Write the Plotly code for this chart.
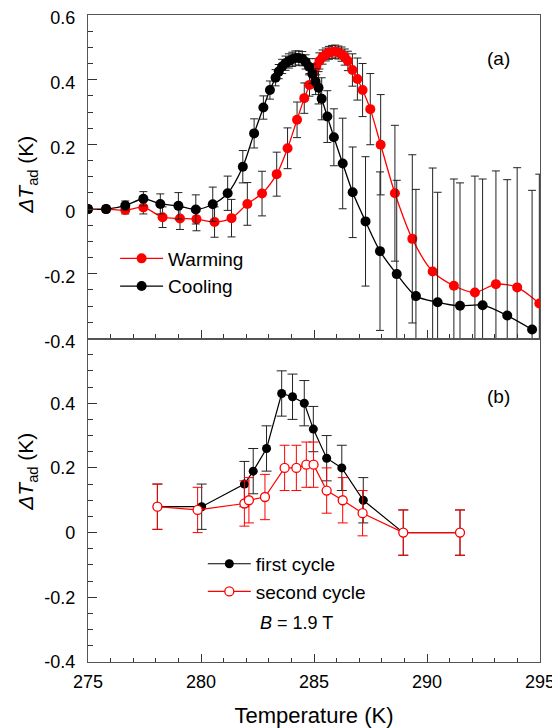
import plotly.graph_objects as go
from plotly.subplots import make_subplots

# ---------------- data: panel (a) ----------------
T_warm = [275.0, 275.8, 276.65, 277.45, 278.3, 279.07, 279.8, 280.6, 281.35, 282.05, 282.7,
          283.35, 283.83, 284.25, 284.57, 284.8, 284.96, 285.1, 285.24, 285.38, 285.52, 285.66,
          285.8, 285.94, 286.08, 286.22, 286.36, 286.5, 286.7, 286.92, 287.15, 287.49, 287.95,
          288.58, 289.35, 290.25, 291.19, 292.12, 293.05, 293.99, 294.97]
dT_warm = [0.0, 0.0, -0.003, 0.005, -0.025, -0.029, -0.031, -0.04, -0.028, 0.016, 0.048,
           0.108, 0.188, 0.276, 0.343, 0.384, 0.418, 0.44, 0.458, 0.47, 0.478, 0.483,
           0.486, 0.487, 0.484, 0.479, 0.47, 0.458, 0.43, 0.402, 0.368, 0.309, 0.199,
           0.049, -0.092, -0.193, -0.237, -0.258, -0.232, -0.242, -0.292]
err_warm = [0.01, 0.01, 0.012, 0.02, 0.032, 0.034, 0.036, 0.047, 0.058, 0.066, 0.069,
            0.068, 0.063, 0.055, 0.047, 0.035, 0.03, 0.025, 0.025, 0.022, 0.02, 0.02,
            0.02, 0.02, 0.02, 0.022, 0.025, 0.03, 0.05, 0.065, 0.082, 0.11, 0.155,
            0.21, 0.26, 0.32, 0.33, 0.36, 0.35, 0.37, 0.4]

T_cool = [275.0, 275.8, 276.65, 277.45, 278.2, 279.0, 279.77, 280.52, 281.18, 281.85, 282.35,
          282.76, 283.05, 283.3, 283.44, 283.59, 283.74, 283.89, 284.04, 284.18, 284.33, 284.48,
          284.63, 284.78, 284.93, 285.07, 285.2, 285.34, 285.59, 285.88, 286.27, 286.71, 287.28,
          287.92, 288.66, 289.51, 290.47, 291.46, 292.46, 293.55, 294.65]
dT_cool = [0.0, 0.0, 0.011, 0.032, 0.016, 0.01, -0.001, 0.015, 0.049, 0.131, 0.234,
           0.314, 0.368, 0.406, 0.425, 0.441, 0.451, 0.458, 0.463, 0.467, 0.467, 0.465,
           0.455, 0.44, 0.418, 0.394, 0.375, 0.341, 0.286, 0.222, 0.141, 0.052, -0.038,
           -0.13, -0.201, -0.269, -0.288, -0.299, -0.297, -0.329, -0.372]
err_cool = [0.01, 0.01, 0.014, 0.022, 0.031, 0.041, 0.045, 0.053, 0.053, 0.05, 0.045,
            0.036, 0.028, 0.025, 0.022, 0.022, 0.022, 0.022, 0.022, 0.022, 0.022, 0.022,
            0.022, 0.025, 0.03, 0.04, 0.05, 0.065, 0.08, 0.088, 0.14, 0.14, 0.2,
            0.245, 0.29, 0.33, 0.34, 0.38, 0.39, 0.42, 0.43]

# ---------------- data: panel (b) ----------------
T_first = [278.07, 280.03, 281.92, 282.31, 282.9, 283.57, 284.05, 284.57, 284.97, 285.56,
           286.23, 287.18, 288.95, 291.46]
dT_first = [0.08, 0.08, 0.15, 0.19, 0.26, 0.43, 0.42, 0.40, 0.32, 0.23, 0.20, 0.10, 0.0, 0.0]
err_first = [0.07] * len(T_first)

T_second = [278.07, 279.85, 281.92, 282.12, 282.83, 283.7, 284.22, 284.66, 284.98, 285.56,
            286.27, 287.15, 288.95, 291.46]
dT_second = [0.08, 0.07, 0.09, 0.10, 0.11, 0.20, 0.20, 0.21, 0.21, 0.13, 0.10, 0.06, 0.0, 0.0]
err_second = [0.07] * len(T_second)

x_ticks = [275, 280, 285, 290, 295]
y_ticks_top = [-0.4, -0.2, 0, 0.2, 0.4, 0.6]
y_text_top = ["-0.4", "-0.2", "0", "0.2", "0.4", "0.6"]
y_ticks_bot = [-0.4, -0.2, 0, 0.2, 0.4]
y_text_bot = ["-0.4", "-0.2", "0", "0.2", "0.4"]

FONT = "Liberation Sans, Arial, sans-serif"
RED = "#ff0000"
BLACK = "#000000"

fig = make_subplots(rows=2, cols=1, shared_xaxes=True, vertical_spacing=0)

fig.add_trace(go.Scatter(
    x=T_warm, y=dT_warm, name="Warming", mode="lines+markers",
    line=dict(color=RED, width=1.3, shape="spline", smoothing=0.8),
    marker=dict(color=RED, size=10, symbol="circle"),
    error_y=dict(type="data", array=err_warm, color="#222222", thickness=1, width=4),
    legend="legend"), row=1, col=1)
fig.add_trace(go.Scatter(
    x=T_cool, y=dT_cool, name="Cooling", mode="lines+markers",
    line=dict(color=BLACK, width=1.3, shape="spline", smoothing=0.8),
    marker=dict(color=BLACK, size=10, symbol="circle"),
    error_y=dict(type="data", array=err_cool, color="#222222", thickness=1, width=4),
    legend="legend"), row=1, col=1)

fig.add_trace(go.Scatter(
    x=T_first, y=dT_first, name="first cycle", mode="lines+markers",
    line=dict(color=BLACK, width=1.2),
    marker=dict(color=BLACK, size=9, symbol="circle"),
    error_y=dict(type="data", array=err_first, color="#222222", thickness=1, width=5),
    legend="legend2"), row=2, col=1)
fig.add_trace(go.Scatter(
    x=T_second, y=dT_second, name="second cycle", mode="lines+markers",
    line=dict(color=RED, width=1.2),
    marker=dict(color="white", size=9, symbol="circle", line=dict(color=RED, width=1.3)),
    error_y=dict(type="data", array=err_second, color=RED, thickness=1, width=5),
    legend="legend2"), row=2, col=1)

axis_common = dict(showline=True, linecolor="#555555", linewidth=1.3, mirror=True,
                   showgrid=False, zeroline=False, ticks="inside", tickcolor="#333333",
                   automargin=False, ticklabeloverflow="allow",
                   tickfont=dict(family=FONT, size=18, color="black"))

fig.update_xaxes(range=[275, 295], tickvals=x_ticks, ticklen=8, tickwidth=1,
                 minor=dict(dtick=1, tick0=275, ticks="inside", ticklen=4, tickcolor="#333333"),
                 **axis_common)
fig.update_xaxes(showticklabels=False, row=1, col=1)
fig.update_xaxes(ticklabelstandoff=3,
                 title=dict(text="Temperature (K)", font=dict(family=FONT, size=22, color="black"),
                            standoff=23), row=2, col=1)

fig.update_yaxes(range=[-0.4, 0.6], ticklen=9, tickwidth=1, ticklabelstandoff=8,
                 minor=dict(dtick=0.05, tick0=0, ticks="inside", ticklen=5, tickcolor="#333333"),
                 **axis_common)
fig.update_yaxes(tickvals=y_ticks_top, ticktext=y_text_top, ticklabelshift=3, row=1, col=1)
fig.update_yaxes(tickvals=y_ticks_bot, ticktext=y_text_bot, row=2, col=1)

ytitle = "<i>ΔT</i><sub>ad</sub> (K)"
fig.add_annotation(text=ytitle, xref="paper", yref="paper", x=-0.135, y=0.753,
                   textangle=-90, showarrow=False, xanchor="center", yanchor="middle",
                   font=dict(family=FONT, size=21, color="black"))
fig.add_annotation(text=ytitle, xref="paper", yref="paper", x=-0.135, y=0.294,
                   textangle=-90, showarrow=False, xanchor="center", yanchor="middle",
                   font=dict(family=FONT, size=21, color="black"))
fig.add_annotation(text="(a)", xref="paper", yref="paper", x=0.909, y=0.933,
                   showarrow=False, xanchor="center", yanchor="middle",
                   font=dict(family=FONT, size=19, color="black"))
fig.add_annotation(text="(b)", xref="paper", yref="paper", x=0.909, y=0.4096,
                   showarrow=False, xanchor="center", yanchor="middle",
                   font=dict(family=FONT, size=19, color="black"))
fig.add_annotation(text="<i>B</i> = 1.9 T", xref="paper", yref="paper", x=0.4617, y=0.0603,
                   showarrow=False, xanchor="center", yanchor="middle",
                   font=dict(family=FONT, size=18, color="black"))

# page body has an 8 px margin: figure is sized so that it fills the 560x728 window exactly
fig.update_layout(
    width=552, height=720,
    margin=dict(l=80, r=20, t=7, b=66),
    paper_bgcolor="white", plot_bgcolor="white",
    showlegend=True,
    legend=dict(x=0.06, y=0.653, xanchor="left", yanchor="top", bgcolor="rgba(0,0,0,0)",
                itemwidth=43,
                font=dict(family=FONT, size=19, color="black"), tracegroupgap=0),
    legend2=dict(x=0.254, y=0.181, xanchor="left", yanchor="top", bgcolor="rgba(0,0,0,0)",
                 itemwidth=43,
                 font=dict(family=FONT, size=19, color="black"), tracegroupgap=0),
)

fig.write_html("out.html")
